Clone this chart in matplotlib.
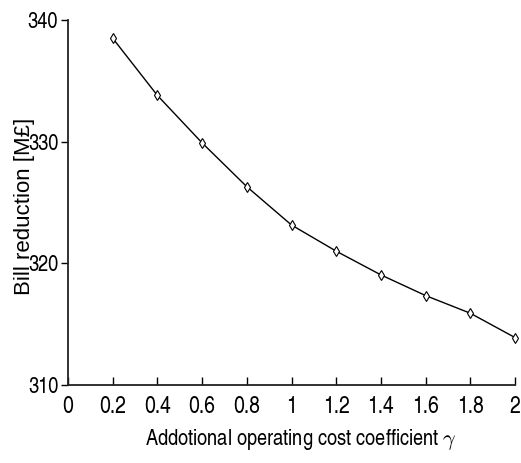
import matplotlib
matplotlib.use("Agg")
import matplotlib.pyplot as plt

plt.rcParams["mathtext.fontset"] = "cm"

gamma = [0.2, 0.4, 0.6, 0.8, 1.0, 1.2, 1.4, 1.6, 1.8, 2.0]
bill_reduction = [338.5, 333.8, 329.9, 326.3, 323.15, 321.0, 319.05, 317.35, 315.9, 313.9]
x_ticks = [0, 0.2, 0.4, 0.6, 0.8, 1, 1.2, 1.4, 1.6, 1.8, 2]
x_tick_labels = ["0", "0.2", "0.4", "0.6", "0.8", "1", "1.2", "1.4", "1.6", "1.8", "2"]
y_ticks = [310, 320, 330, 340]

cond = "TeX Gyre Heros Cn"
regular = "Liberation Sans"

fig = plt.figure(figsize=(5.21, 4.63), dpi=100)
ax = fig.add_axes([68/521, 1-385/463, (515-68)/521, (385-20)/463])

ax.plot(gamma, bill_reduction, color="black", lw=1.0, marker="d",
        markersize=5, markerfacecolor="white", markeredgecolor="black",
        markeredgewidth=0.8, clip_on=False)

ax.set_xlim(0, 2)
ax.set_ylim(310, 340)
ax.set_xticks(x_ticks)
ax.set_xticklabels(x_tick_labels)
ax.set_yticks(y_ticks)

for s in ("top", "right"):
    ax.spines[s].set_visible(False)
for s in ("left", "bottom"):
    ax.spines[s].set_linewidth(1.3)
    ax.spines[s].set_color("#222222")

ax.tick_params(axis="x", direction="in", length=6, width=1, pad=8)
ax.tick_params(axis="y", direction="out", length=5, width=1, pad=2)
for lab in ax.get_xticklabels():
    lab.set_fontfamily(cond)
    lab.set_fontsize(17)
for lab in ax.get_yticklabels():
    lab.set_fontfamily(cond)
    lab.set_fontsize(16)

ax.set_xlabel(r"Addotional operating cost coefficient $\gamma$", fontfamily=cond,
              fontsize=16)
ax.xaxis.set_label_coords((301 - 68) / 447, -0.115)
ax.set_ylabel("Bill reduction [M£]", fontfamily=regular, fontsize=16,
              va="baseline")
ax.yaxis.set_label_coords((30 - 68) / 447, 0.49)

fig.savefig("out.png", dpi=100, facecolor="white")
